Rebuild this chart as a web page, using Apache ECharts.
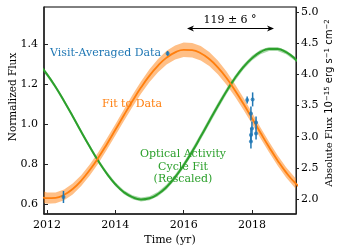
<!DOCTYPE html>
<html><head><meta charset="utf-8">
<script src="https://cdn.jsdelivr.net/npm/echarts@6/dist/echarts.min.js"></script>
<style>html,body{margin:0;padding:0;background:#fff}#c{width:340px;height:250px}</style>
</head><body><div id="c"></div>
<script>
// ---- data ----
const years = [2011.75,2012,2012.25,2012.5,2012.75,2013,2013.25,2013.5,2013.75,2014,2014.25,2014.5,2014.75,2015,2015.25,2015.5,2015.75,2016,2016.25,2016.5,2016.75,2017,2017.25,2017.5,2017.75,2018,2018.25,2018.5,2018.75,2019,2019.25,2019.5];
const fitFlux = [0.642,0.629,0.631,0.646,0.675,0.717,0.770,0.831,0.899,0.971,1.044,1.115,1.182,1.242,1.292,1.332,1.358,1.371,1.369,1.354,1.325,1.283,1.231,1.169,1.101,1.029,0.956,0.885,0.818,0.758,0.708,0.669];
const fitErr = [0.030,0.028,0.027,0.027,0.027,0.027,0.028,0.028,0.028,0.028,0.029,0.030,0.031,0.032,0.033,0.034,0.035,0.036,0.036,0.036,0.035,0.034,0.033,0.031,0.030,0.028,0.027,0.026,0.026,0.026,0.026,0.026];
const optFlux = [1.301,1.248,1.185,1.114,1.039,0.961,0.886,0.815,0.752,0.699,0.659,0.634,0.623,0.629,0.650,0.685,0.734,0.794,0.862,0.937,1.014,1.090,1.163,1.229,1.285,1.329,1.360,1.375,1.375,1.359,1.328,1.283];
const optErr = [0.010,0.010,0.010,0.010,0.010,0.010,0.010,0.010,0.010,0.010,0.010,0.010,0.010,0.010,0.011,0.012,0.013,0.014,0.015,0.016,0.016,0.016,0.015,0.014,0.013,0.012,0.011,0.010,0.010,0.010,0.010,0.010];
const obsYear = [2012.48,2015.53,2017.86,2018.02,2017.97,2018.12,2018.00,2017.97,2018.12,2017.97];
const obsFlux = [0.635,1.353,1.120,1.123,1.053,1.007,0.978,0.945,0.953,0.912];
const obsErr  = [0.030,0.012,0.017,0.035,0.035,0.030,0.035,0.035,0.030,0.035];
const xTicks = [2012,2014,2016,2018];
const yTicks = [0.6,0.8,1.0,1.2,1.4];
const y2Ticks = [2.0,2.5,3.0,3.5,4.0,4.5,5.0];
const labels = {
  data: 'Visit-Averaged Data',
  fit: 'Fit to Data',
  opt: 'Optical Activity\nCycle Fit\n(Rescaled)',
  phase: '119 ± 6 °',
  xName: 'Time (yr)',
  yName: 'Normalized Flux',
  y2Name: '{a|Absolute Flux }{n|10}{s|−15}{n| erg s}{s|−1}{n| cm}{s|−2}'
};

// ---- styles ----
const SERIF = 'DejaVu Serif';
const C_OR = '#ff7f0e', C_GR = '#2ca02c', C_BL = '#1f77b4';

function bandSeries(vals, errs, fill) {
  return {
    type: 'custom', silent: true, z: 1,
    data: years.map((t, i) => [t, vals[i] - errs[i], vals[i] + errs[i]]),
    renderItem: function (params, api) {
      if (params.dataIndex !== 0) return;
      const up = [], lo = [];
      for (let i = 0; i < years.length; i++) {
        up.push(api.coord([years[i], vals[i] + errs[i]]));
        lo.push(api.coord([years[i], vals[i] - errs[i]]));
      }
      const cs = params.coordSys;
      return {
        type: 'polygon', shape: { points: up.concat(lo.reverse()), smooth: 0 },
        style: { fill: fill },
        clipPath: { type: 'rect', shape: { x: cs.x, y: cs.y, width: cs.width, height: cs.height } }
      };
    }
  };
}

const chart = echarts.init(document.getElementById('c'), null, { renderer: 'canvas' });
const axisLbl = { fontFamily: SERIF, fontSize: 11, color: '#000' };
chart.setOption({
  animation: false,
  grid: { left: 44, right: 44, top: 7, bottom: 36, containLabel: false, outerBoundsMode: 'none',
          show: true, borderColor: '#000', borderWidth: 1 },
  xAxis: {
    type: 'value', min: 2011.91, max: 2019.29,
    axisLine: { show: true, lineStyle: { color: '#222', width: 1.5 } },
    axisTick: { show: true, inside: true, length: 4, customValues: xTicks, lineStyle: { color: '#222' } },
    axisLabel: Object.assign({ customValues: xTicks, margin: 6, formatter: v => String(Math.round(v)) }, axisLbl),
    splitLine: { show: false }
  },
  yAxis: [{
    type: 'value', min: 0.55, max: 1.585, position: 'left',
    axisLine: { show: true, lineStyle: { color: '#222', width: 1.5 } },
    axisTick: { show: true, inside: true, length: 4, customValues: yTicks, lineStyle: { color: '#222' } },
    axisLabel: Object.assign({ customValues: yTicks, margin: 6, formatter: v => v.toFixed(1) }, axisLbl),
    splitLine: { show: false }
  }, {
    type: 'value', min: 1.76, max: 5.08, position: 'right',
    axisLine: { show: true, lineStyle: { color: '#222', width: 1 } },
    axisTick: { show: true, inside: false, length: 3, customValues: y2Ticks, lineStyle: { color: '#222' } },
    axisLabel: Object.assign({ customValues: y2Ticks, margin: 5, formatter: v => v.toFixed(1) }, axisLbl),
    splitLine: { show: false }
  }],
  series: [
    bandSeries(fitFlux, fitErr, 'rgba(255,127,14,0.5)'),
    bandSeries(optFlux, optErr, 'rgba(44,160,44,0.4)'),
    { type: 'line', data: years.map((t, i) => [t, optFlux[i]]), smooth: true, symbol: 'none', z: 3,
      lineStyle: { color: C_GR, width: 2 } },
    { type: 'line', data: years.map((t, i) => [t, fitFlux[i]]), smooth: true, symbol: 'none', z: 4,
      lineStyle: { color: C_OR, width: 1.8 } },
    { type: 'custom', z: 5, silent: true,
      data: obsYear.map((t, i) => [t, obsFlux[i], obsErr[i]]),
      encode: { x: 0, y: 1 },
      renderItem: function (params, api) {
        const x = api.value(0), y = api.value(1), e = api.value(2);
        const a = api.coord([x, y - e]), b = api.coord([x, y + e]);
        return { type: 'line', shape: { x1: a[0], y1: a[1], x2: b[0], y2: b[1] }, style: { stroke: C_BL, lineWidth: 1.5 } };
      } },
    { type: 'scatter', z: 6, data: obsYear.map((t, i) => [t, obsFlux[i]]), symbol: 'circle', symbolSize: 4,
      itemStyle: { color: C_BL } }
  ],
  graphic: [
    { type: 'text', x: 170, y: 240, style: { text: labels.xName, font: '11px "DejaVu Serif"', fill: '#000', align: 'center', verticalAlign: 'middle' } },
    { type: 'text', x: 13, y: 97, rotation: Math.PI / 2, style: { text: labels.yName, font: '10.5px "DejaVu Serif"', fill: '#000', align: 'center', verticalAlign: 'middle' } },
    { type: 'text', x: 329, y: 103, rotation: Math.PI / 2, style: { text: labels.y2Name, fill: '#000', align: 'center', verticalAlign: 'middle',
        rich: { a: { fontFamily: SERIF, fontSize: 10, fill: '#000' },
                n: { fontFamily: 'DejaVu Sans', fontSize: 10, fill: '#000' },
                s: { fontFamily: 'DejaVu Sans', fontSize: 7, fill: '#000', verticalAlign: 'top' } } } },
    { type: 'text', x: 50, y: 53, style: { text: labels.data, font: '11px "DejaVu Serif"', fill: C_BL, align: 'left', verticalAlign: 'middle' } },
    { type: 'text', x: 132, y: 104, style: { text: labels.fit, font: '11px "DejaVu Serif"', fill: C_OR, align: 'center', verticalAlign: 'middle' } },
    { type: 'text', x: 183, y: 167, style: { text: labels.opt, font: '11px "DejaVu Serif"', fill: C_GR, align: 'center', verticalAlign: 'middle', lineHeight: 12.5 } },
    { type: 'text', x: 230, y: 20, style: { text: labels.phase, font: '11px "DejaVu Serif"', fill: '#000', align: 'center', verticalAlign: 'middle' } },
    { type: 'line', shape: { x1: 189, y1: 28.5, x2: 272, y2: 28.5 }, style: { stroke: '#000', lineWidth: 1.2 } },
    { type: 'polygon', shape: { points: [[187, 28.5], [194, 25.5], [192, 28.5], [194, 31.5]] }, style: { fill: '#000' } },
    { type: 'polygon', shape: { points: [[274, 28.5], [267, 25.5], [269, 28.5], [267, 31.5]] }, style: { fill: '#000' } }
  ]
});
</script>
</body></html>
